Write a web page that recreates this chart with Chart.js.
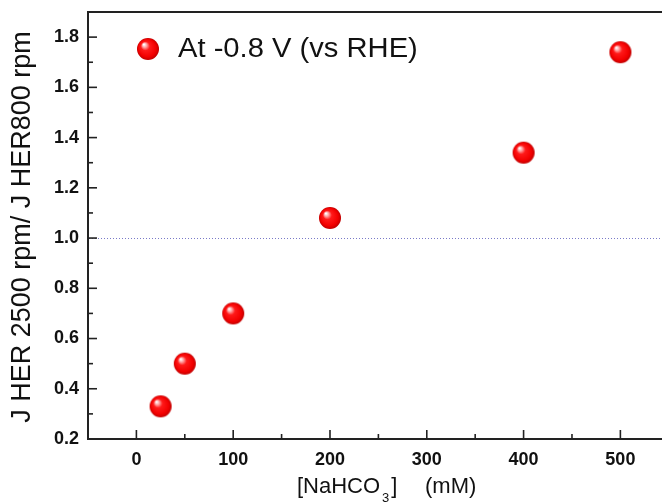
<!DOCTYPE html>
<html>
<head>
<meta charset="utf-8">
<script src="https://cdn.jsdelivr.net/npm/chart.js@4.4.0/dist/chart.umd.min.js"></script>
<style>
html,body{margin:0;padding:0;background:#fff}
canvas{display:block}
</style>
</head>
<body>
<canvas id="c" width="662" height="504"></canvas>
<script>
// data
const concentrations=[25,50,100,200,400,500];      // [NaHCO3] mM
const ratios=[0.33,0.50,0.70,1.08,1.34,1.74];      // J HER 2500 / J HER 800
const xTickValues=[0,100,200,300,400,500];
const xMinorValues=[50,150,250,350,450];
const yTickValues=[0.2,0.4,0.6,0.8,1.0,1.2,1.4,1.6,1.8];
const yMinorValues=[0.3,0.5,0.7,0.9,1.1,1.3,1.5,1.7];
const referenceLevel=1.0;
const seriesLabel='At -0.8 V (vs RHE)';

function makeSphere(r){
  const c=document.createElement('canvas');
  c.width=c.height=2*r+2;
  const g=c.getContext('2d');
  const cx=r+1,cy=r+1;
  const grad=g.createRadialGradient(cx-r*0.38,cy-r*0.42,r*0.04,cx,cy,r);
  grad.addColorStop(0,'#ffffff');
  grad.addColorStop(0.18,'#ff9c9c');
  grad.addColorStop(0.38,'#ff1a1a');
  grad.addColorStop(0.8,'#f20000');
  grad.addColorStop(1,'#c00000');
  g.fillStyle=grad;
  g.beginPath();g.arc(cx,cy,r,0,Math.PI*2);g.fill();
  return c;
}
const sphere=makeSphere(11);
const FONT='Arial, "Liberation Sans", sans-serif';
const zeroPad=s=>{s.paddingLeft=s.paddingRight=s.paddingTop=s.paddingBottom=0;};

const decorations={
  id:'decorations',
  beforeDatasetsDraw(chart){
    const {ctx,chartArea:a,scales:{y}}=chart;
    const py=Math.round(y.getPixelForValue(referenceLevel))+0.5;
    ctx.save();
    ctx.strokeStyle='#7a7ac8';
    ctx.lineWidth=1;
    ctx.setLineDash([1,2]);
    ctx.beginPath();ctx.moveTo(a.left+1,py);ctx.lineTo(a.right,py);ctx.stroke();
    ctx.restore();
  },
  afterDraw(chart){
    const {ctx,chartArea:a,scales:{x,y}}=chart;
    ctx.save();
    ctx.strokeStyle='#222';
    ctx.lineWidth=2;
    // top frame
    ctx.beginPath();ctx.moveTo(a.left,a.top);ctx.lineTo(a.right,a.top);ctx.stroke();
    // inward ticks
    ctx.lineWidth=1.6;
    const tick=(px,py,dx,dy)=>{ctx.beginPath();ctx.moveTo(px,py);ctx.lineTo(px+dx,py+dy);ctx.stroke();};
    xTickValues.forEach(v=>tick(x.getPixelForValue(v),a.bottom,0,-9));
    xMinorValues.forEach(v=>tick(x.getPixelForValue(v),a.bottom,0,-5));
    yTickValues.forEach(v=>tick(a.left,y.getPixelForValue(v),9,0));
    yMinorValues.forEach(v=>tick(a.left,y.getPixelForValue(v),5,0));
    // legend
    ctx.drawImage(sphere,148-sphere.width/2,49-sphere.height/2);
    ctx.fillStyle='#111';
    ctx.font='27px '+FONT;
    ctx.textAlign='left';ctx.textBaseline='alphabetic';
    ctx.save();
    ctx.translate(178,57);ctx.scale(1.08,1);
    ctx.fillText(seriesLabel,0,0);
    ctx.restore();
    // y title
    ctx.save();
    ctx.translate(30,227);ctx.rotate(-Math.PI/2);
    ctx.textAlign='center';
    ctx.fillText('J HER 2500 rpm/ J HER800 rpm',0,0);
    ctx.restore();
    // x title with subscript
    ctx.font='22px '+FONT;
    ctx.textAlign='left';
    let tx=297;
    ctx.fillText('[NaHCO',tx,493);
    tx+=ctx.measureText('[NaHCO').width+2;
    ctx.font='13px '+FONT;
    ctx.fillText('3',tx,502);
    tx+=ctx.measureText('3').width+2;
    ctx.font='22px '+FONT;
    ctx.fillText(']',tx,493);
    ctx.fillText('(mM)',425,493);
    ctx.restore();
  }
};

new Chart(document.getElementById('c'),{
  type:'scatter',
  data:{datasets:[{
    label:seriesLabel,
    data:concentrations.map((v,i)=>({x:v,y:ratios[i]})),
    pointStyle:sphere,
    pointRadius:11
  }]},
  options:{
    responsive:false,
    animation:false,
    events:[],
    layout:{autoPadding:false,padding:{top:12,right:0,left:0,bottom:0}},
    plugins:{legend:{display:false},tooltip:{enabled:false}},
    scales:{
      x:{
        type:'linear',min:-50,max:543,
        afterBuildTicks:s=>{s.ticks=xTickValues.map(v=>({value:v}));},
        afterFit:s=>{s.height=65;zeroPad(s);},
        grid:{display:false,drawTicks:false},
        border:{display:true,color:'#222',width:2},
        ticks:{color:'#111',padding:10,font:{family:FONT,size:18,weight:'bold'},callback:v=>String(v)}
      },
      y:{
        type:'linear',min:0.2,max:1.9,
        afterBuildTicks:s=>{s.ticks=yTickValues.map(v=>({value:v}));},
        afterFit:s=>{s.width=88;zeroPad(s);},
        grid:{display:false,drawTicks:false},
        border:{display:true,color:'#222',width:2},
        ticks:{color:'#111',padding:9,font:{family:FONT,size:18,weight:'bold'},callback:v=>v.toFixed(1)}
      }
    }
  },
  plugins:[decorations]
});
</script>
</body>
</html>
